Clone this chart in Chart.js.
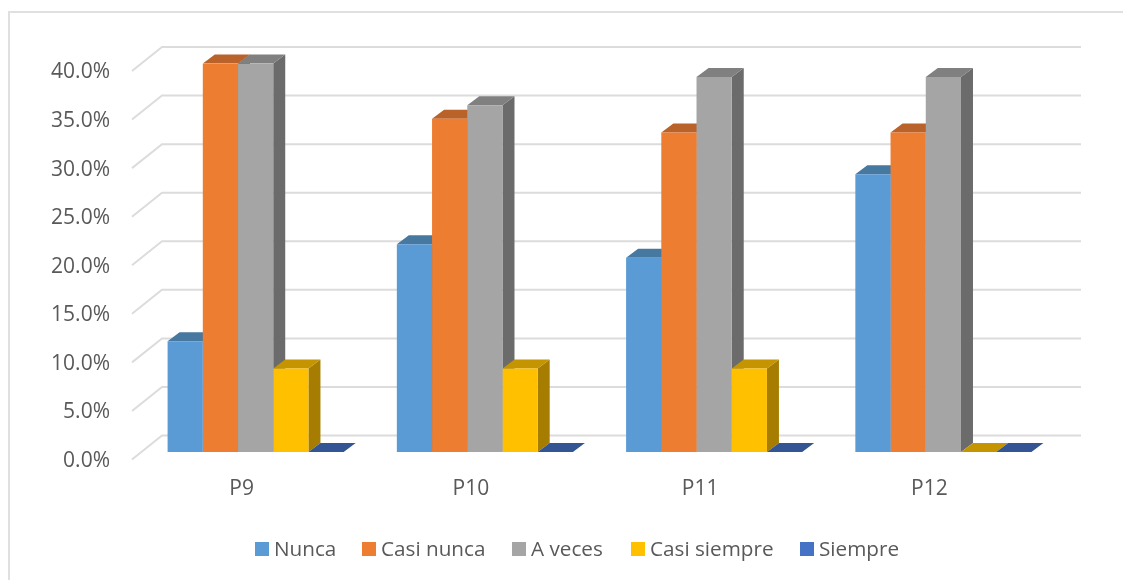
<!DOCTYPE html>
<html>
<head>
<meta charset="utf-8">
<title>P9-P12</title>
<script src="https://cdn.jsdelivr.net/npm/chart.js@4"></script>
<style>
    html, body { margin: 0; padding: 0; background: #fff; overflow: hidden; }
    #wrap { position: relative; width: 1123px; height: 580px; overflow: hidden; }
    #frame { position: absolute; left: 8px; top: 11px; width: 1200px; height: 700px; border: 2px solid #e0e0e0; box-sizing: border-box; }
    canvas { position: absolute; left: 0; top: 0; }
    #legend { position: absolute; left: 255px; top: 534px; height: 28px; font: 20.7px "Open Sans", sans-serif; color: #595959; white-space: nowrap; }
    #legend span.item { position: absolute; top: 0; height: 28px; display: flex; align-items: center; }
    #legend i { display: inline-block; width: 14px; height: 14px; margin-right: 5px; position: relative; top: 1px; }
</style>
</head>
<body>
<div id="wrap">
    <div id="frame"></div>
    <canvas id="chart" width="1123" height="580"></canvas>
    <div id="legend"></div>
</div>
<script>
// Data
const categories = ['P9', 'P10', 'P11', 'P12'];
const seriesNames = ['Nunca', 'Casi nunca', 'A veces', 'Casi siempre', 'Siempre'];
const nunca = [11.4, 21.4, 20.0, 28.6];
const casiNunca = [40.0, 34.3, 32.9, 32.9];
const aVeces = [40.0, 35.7, 38.6, 38.6];
const casiSiempre = [8.6, 8.6, 8.6, 0];
const siempre = [0, 0, 0, 0];
const seriesValues = [nunca, casiNunca, aVeces, casiSiempre, siempre];

const frontColors = ['#5B9BD5', '#ED7D31', '#A5A5A5', '#FFC000', '#4472C4'];
const topColors = ['#47789F', '#B9622A', '#808080', '#C49500', '#335593'];
const sideColors = ['#3D6A94', '#A0551F', '#6B6B6B', '#A67D00', '#2C4A80'];
const legendLeft = [0, 107, 257, 376, 545];

// 3D look: depth of each bar, and how the walls sit behind the front plane
const DEPTH_X = 12, DEPTH_Y = 9;
const WALL_X = 162, WALL_RIGHT = 1081, WALL_UP = 16.5, FLOOR_X = 132, FLOOR_DOWN = 7.5;

function poly(ctx, color, pts) {
    ctx.fillStyle = color;
    ctx.beginPath();
    pts.forEach((p, i) => i ? ctx.lineTo(p[0], p[1]) : ctx.moveTo(p[0], p[1]));
    ctx.closePath();
    ctx.fill();
}

const walls3d = {
    id: 'walls3d',
    beforeDatasetsDraw(chart) {
        const ctx = chart.ctx;
        const y = chart.scales.y;

        // gridlines on the back wall with a stub down the side wall
        ctx.save();
        ctx.strokeStyle = '#dcdcdc';
        ctx.lineWidth = 2;
        y.ticks.forEach(t => {
            const py = y.getPixelForValue(t.value);
            ctx.beginPath();
            ctx.moveTo(FLOOR_X, py + FLOOR_DOWN);
            ctx.lineTo(WALL_X, py - WALL_UP);
            ctx.lineTo(WALL_RIGHT, py - WALL_UP);
            ctx.stroke();
        });

        // side and top faces, left to right. the fronts are drawn by Chart.js on top
        categories.forEach((c, i) => {
            seriesNames.forEach((s, d) => {
                const bar = chart.getDatasetMeta(d).data[i];
                const left = bar.x - bar.width / 2;
                const right = bar.x + bar.width / 2;
                poly(ctx, sideColors[d], [[right, bar.y], [right + DEPTH_X, bar.y - DEPTH_Y], [right + DEPTH_X, bar.base - DEPTH_Y], [right, bar.base]]);
                poly(ctx, topColors[d], [[left, bar.y], [left + DEPTH_X, bar.y - DEPTH_Y], [right + DEPTH_X, bar.y - DEPTH_Y], [right, bar.y]]);
            });
        });
        ctx.restore();
    }
};

const chart = new Chart(document.getElementById('chart'), {
    type: 'bar',
    data: {
        labels: categories,
        datasets: seriesNames.map((name, d) => ({
            label: name,
            data: seriesValues[d],
            backgroundColor: frontColors[d],
            borderWidth: 0,
            categoryPercentage: 0.768,
            barPercentage: 1
        }))
    },
    options: {
        responsive: false,
        animation: false,
        devicePixelRatio: 1,
        layout: { padding: { top: 63.5, right: 65, left: 0, bottom: 0 } },
        plugins: {
            legend: { display: false },
            tooltip: { enabled: false }
        },
        scales: {
            x: {
                grid: { display: false, drawTicks: false },
                border: { display: false },
                afterFit(scale) { scale.height = 128; },
                ticks: { color: '#595959', font: { family: 'Open Sans', size: 21 }, labelOffset: -14, padding: 24, maxRotation: 0 }
            },
            y: {
                min: 0,
                max: 40,
                grid: { display: false, drawTicks: false },
                border: { display: false },
                afterFit(scale) { scale.width = 141; },
                ticks: { stepSize: 5, color: '#595959', font: { family: 'Open Sans', size: 21 }, labelOffset: 9, padding: 31, callback: v => v.toFixed(1) + '%' }
            }
        }
    },
    plugins: [walls3d]
});

// legend as html, the gap box/text is tighter than the canvas legend allows
document.getElementById('legend').innerHTML = chart.data.datasets.map((ds, d) =>
    `<span class="item" style="left:${legendLeft[d]}px"><i style="background:${ds.backgroundColor}"></i>${ds.label}</span>`
).join('');
</script>
</body>
</html>
